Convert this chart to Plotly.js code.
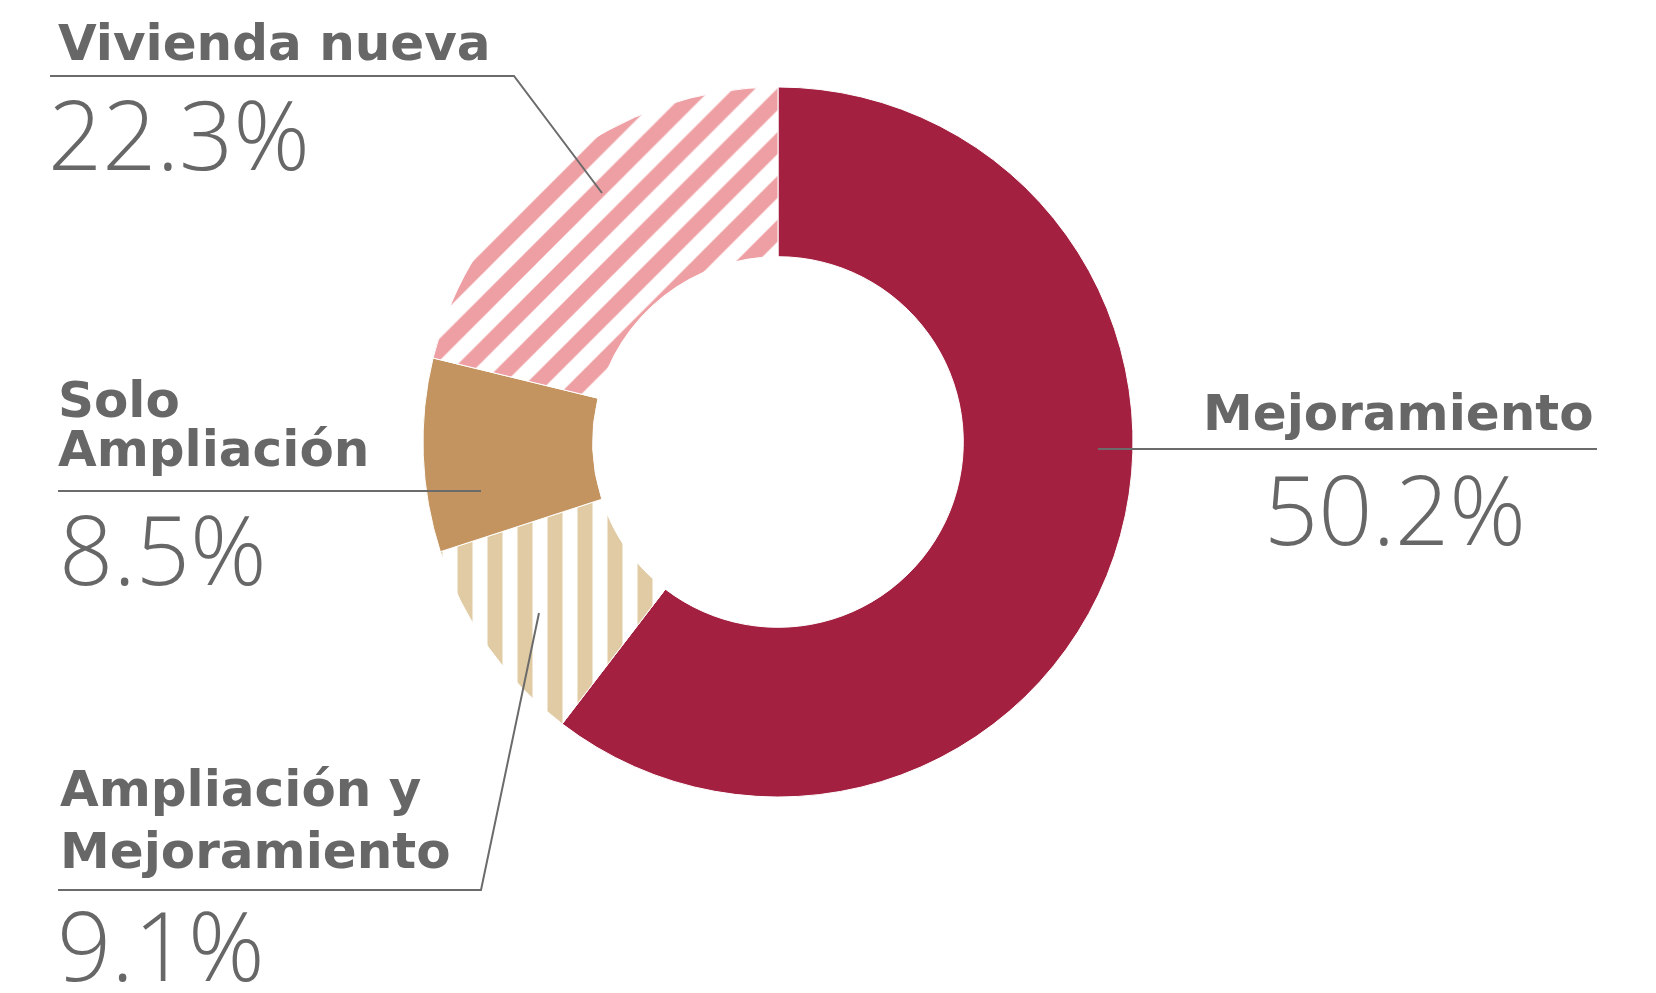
<!DOCTYPE html>
<html>
<head>
<meta charset="utf-8">
<script src="https://cdn.plot.ly/plotly-3.0.1.min.js"></script>
<style>
  html, body { margin: 0; padding: 0; background: #ffffff; }
  #chart { width: 1656px; height: 993px; }
</style>
</head>
<body>
<div id="chart"></div>
<script>
// ---- data ----
const categories = ['Mejoramiento', 'Ampliación y Mejoramiento', 'Solo Ampliación', 'Vivienda nueva'];
// share of the ring each slice occupies, as drawn (measured from the slice angles)
const sliceShares = [60.4, 9.6, 8.8, 21.2];
// percentages printed next to each slice
const labelPercents = ['50.2%', '9.1%', '8.5%', '22.3%'];
// printed label lines
const labelLines = [['Mejoramiento'], ['Ampliación y', 'Mejoramiento'], ['Solo', 'Ampliación'], ['Vivienda nueva']];

// ---- styling / layout ----
const W = 1656, H = 993;
const px = x => x / W;
const py = y => 1 - y / H;
const TEXT = '#676767';
const LINE = '#6b6b6b';

const cx = 778, cy = 442, R = 355;

const trace = {
  type: 'pie',
  labels: categories,
  values: sliceShares,
  sort: false,
  direction: 'clockwise',
  rotation: 0,
  hole: 0.522,
  textinfo: 'none',
  hoverinfo: 'label+percent',
  showlegend: false,
  domain: { x: [px(cx - R), px(cx + R)], y: [py(cy + R), py(cy - R)] },
  marker: {
    colors: ['#A32040', '#FFFFFF', '#C3945F', '#FFFFFF'],
    line: { color: '#FFFFFF', width: 1 },
    pattern: {
      shape: ['', '|', '', '/'],
      fgcolor: ['#A32040', '#E0CBA4', '#C3945F', '#EE9FA3'],
      bgcolor: ['#A32040', '#FFFFFF', '#C3945F', '#FFFFFF'],
      size: [10, 30, 10, 31],
      solidity: [0.5, 0.5, 0.5, 0.5],
      fillmode: 'replace'
    }
  }
};

const boldFont = { family: 'DejaVu Sans, Open Sans, sans-serif', size: 50, color: TEXT, weight: 700 };
const numFont = { family: 'Open Sans, Lato, sans-serif', size: 95, color: TEXT, weight: 300 };

// label layout: lines x, line centers y, percent x, percent center y
const labelPos = [
  { x: 1201, ys: [413], px: 1262, py: 508 },
  { x: 58, ys: [789, 851], px: 55, py: 944 },
  { x: 56, ys: [400, 449], px: 57, py: 548 },
  { x: 56, ys: [43], px: 46, py: 133 }
];

const annotations = [];
categories.forEach((c, i) => {
  const p = labelPos[i];
  labelLines[i].forEach((t, j) => {
    annotations.push({
      xref: 'paper', yref: 'paper', x: px(p.x), y: py(p.ys[j]),
      xanchor: 'left', yanchor: 'middle', showarrow: false,
      text: t, font: boldFont
    });
  });
  annotations.push({
    xref: 'paper', yref: 'paper', x: px(p.px), y: py(p.py),
    xanchor: 'left', yanchor: 'middle', showarrow: false,
    text: labelPercents[i], font: numFont
  });
});

function poly(points) {
  return points.map((p, k) => (k === 0 ? 'M ' : 'L ') + px(p[0]) + ' ' + py(p[1])).join(' ');
}
const leaders = [
  [[1098, 449], [1597, 449]],
  [[58, 890], [481, 890], [539, 613]],
  [[58, 491], [481, 491]],
  [[50, 76], [514, 76], [602, 193]]
];
const shapes = leaders.map(pts => ({
  type: 'path', xref: 'paper', yref: 'paper', layer: 'above',
  path: poly(pts), line: { color: LINE, width: 2 }
}));

const layout = {
  width: W, height: H,
  margin: { l: 0, r: 0, t: 0, b: 0, pad: 0 },
  paper_bgcolor: '#FFFFFF',
  plot_bgcolor: '#FFFFFF',
  showlegend: false,
  annotations: annotations,
  shapes: shapes
};

Plotly.newPlot('chart', [trace], layout, { displayModeBar: false, staticPlot: true });
</script>
</body>
</html>
